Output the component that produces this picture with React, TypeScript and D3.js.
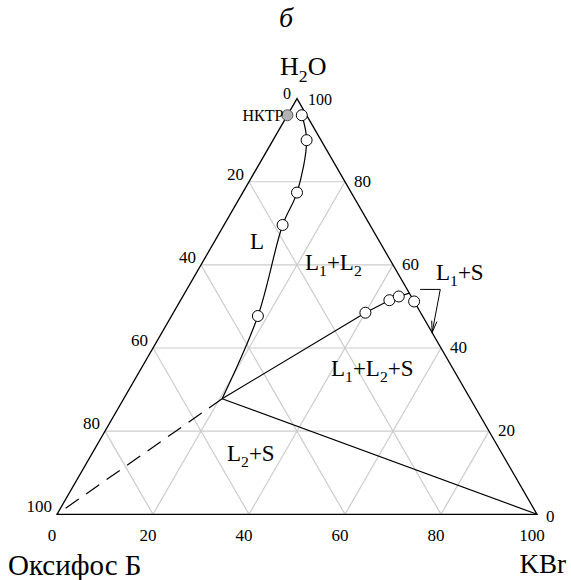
import React from "react";
import * as d3 from "d3";

// ternary points as [KBr %, H2O %]
const ticks = [0, 20, 40, 60, 80, 100];
const gridLevels = [20, 40, 60, 80];
const curveL: [number, number][] = [
  [3, 96], [7, 90], [11.3, 77.4], [12.2, 69.6], [18, 47.7], [20.5, 27.8],
];
const curveLCircles: [number, number][] = [
  [3, 96], [7, 90], [11.3, 77.4], [12.2, 69.6], [18, 47.7],
];
const curveR: [number, number][] = [
  [20.5, 27.8], [40, 48.5], [43.5, 51.5], [45, 52.4], [46.8, 53.2],
];
const curveRCircles: [number, number][] = [
  [40, 48.5], [43.5, 51.5], [45, 52.4], [48.8, 51.2],
];
const nktp: [number, number] = [0, 96];
const junction: [number, number] = [20.5, 27.8];
const leaderPts: [number, number][] = [[48.6, 54.1], [52.8, 54.1], [56.3, 43.7]];

const X0 = 57, Y0 = 514.3, SIDE = 480;
const s = d3.scaleLinear().domain([0, 100]).range([0, SIDE]);
const H = Math.sqrt(3) / 2;
const P = (k: number, w: number): [number, number] => [X0 + s(k + w / 2), Y0 - s(w) * H];

const FONT = "'Liberation Serif', 'Times New Roman', 'DejaVu Serif', serif";

function Lbl({ x, y, parts, size = 23, anchor = "start" }: any) {
  return (
    <text x={x} y={y} fontSize={size} style={{ fontFamily: FONT }} textAnchor={anchor}>
      {parts.map((p: any, i: number) =>
        p.sub ? (
          <tspan key={i} fontSize={size * 0.68} dy={size * 0.28}>{p.t}</tspan>
        ) : (
          <tspan key={i} dy={i > 0 && parts[i - 1].sub ? -size * 0.28 : 0}>{p.t}</tspan>
        )
      )}
    </text>
  );
}

export default function App() {
  const line = d3.line<[number, number]>().x(d => P(d[0], d[1])[0]).y(d => P(d[0], d[1])[1]);
  const smooth = d3.line<[number, number]>().x(d => P(d[0], d[1])[0]).y(d => P(d[0], d[1])[1]).curve(d3.curveCatmullRom.alpha(0.5));
  const A = P(0, 100), Bl = P(0, 0), Br = P(100, 0);
  const grid: any[] = [];
  gridLevels.forEach(v => {
    grid.push([P(0, v), P(100 - v, v)]);
    grid.push([P(v, 0), P(v, 100 - v)]);
    grid.push([P(100 - v, 0), P(0, 100 - v)]);
  });
  const J = P(junction[0], junction[1]);
  const lp = leaderPts.map(d => P(d[0], d[1]));
  const tip = lp[2];
  const ang = Math.atan2(tip[1] - lp[1][1], tip[0] - lp[1][0]);
  const ah = 12, aw = 0.22;
  const a1 = [tip[0] - ah * Math.cos(ang - aw), tip[1] - ah * Math.sin(ang - aw)];
  const a2 = [tip[0] - ah * Math.cos(ang + aw), tip[1] - ah * Math.sin(ang + aw)];
  const tStyle = { fontFamily: FONT };
  const N = P(nktp[0], nktp[1]);
  return (
    <svg width={571} height={580} style={{ position: "absolute", left: 0, top: 0, display: "block" }}>
      <rect width={571} height={580} fill="#fff" />
      {grid.map((g, i) => (
        <line key={i} x1={g[0][0]} y1={g[0][1]} x2={g[1][0]} y2={g[1][1]} stroke="#cccccc" strokeWidth={1.2} />
      ))}
      <path d={`M${A}L${Bl}L${Br}Z`} fill="none" stroke="#000" strokeWidth={1.3} />
      <path d={smooth(curveL) || ""} fill="none" stroke="#000" strokeWidth={1.2} />
      <path d={line(curveR) || ""} fill="none" stroke="#000" strokeWidth={1.2} />
      <line x1={J[0]} y1={J[1]} x2={Br[0]} y2={Br[1]} stroke="#000" strokeWidth={1.2} />
      <line x1={J[0]} y1={J[1]} x2={Bl[0]} y2={Bl[1]} stroke="#000" strokeWidth={1.2} strokeDasharray="16,9" />
      {curveLCircles.concat(curveRCircles).map((d, i) => {
        const p = P(d[0], d[1]);
        return <circle key={i} cx={p[0]} cy={p[1]} r={5.5} fill="#fff" stroke="#000" strokeWidth={1} />;
      })}
      <circle cx={N[0]} cy={N[1]} r={5.5} fill="#b3b3b3" stroke="#555" strokeWidth={1} />
      <polyline points={lp.map(p => p.join(",")).join(" ")} fill="none" stroke="#000" strokeWidth={1} />
      <polyline points={`${a1.join(",")} ${tip.join(",")} ${a2.join(",")}`} fill="none" stroke="#000" strokeWidth={1} />
      {ticks.map(t => {
        const p = P(t, 0);
        return (
          <text key={"b" + t} x={p[0] - 5} y={p[1] + 27} fontSize={17} style={tStyle} textAnchor="middle">{t}</text>
        );
      })}
      {ticks.slice(1).map(t => {
        const p = P(0, 100 - t);
        return (
          <text key={"l" + t} x={p[0] - 5} y={p[1] - 2} fontSize={17} style={tStyle} textAnchor="end">{t}</text>
        );
      })}
      {ticks.slice(0, 5).map(t => {
        const p = P(100 - t, t);
        return (
          <text key={"r" + t} x={p[0] + 9} y={p[1] + (t === 0 ? 8 : 5)} fontSize={17} style={tStyle}>{t}</text>
        );
      })}
      <text x={A[0] - 10} y={A[1]} fontSize={16} style={tStyle} textAnchor="middle">0</text>
      <text x={A[0] + 11} y={A[1] + 6} fontSize={16} style={tStyle}>100</text>
      <text x={N[0] - 4} y={N[1] + 6} fontSize={16} style={tStyle} textAnchor="end">НКТР</text>
      <text x={286} y={27} fontSize={28} fontStyle="italic" style={tStyle} textAnchor="middle">б</text>
      <Lbl x={280} y={75} size={26} parts={[{ t: "H" }, { t: "2", sub: true }, { t: "O" }]} />
      <text x={8} y={575} fontSize={29} style={tStyle}>Оксифос Б</text>
      <text x={566} y={573} fontSize={27} style={tStyle} textAnchor="end">KBr</text>
      <Lbl x={250} y={249} parts={[{ t: "L" }]} />
      <Lbl x={305} y={270} parts={[{ t: "L" }, { t: "1", sub: true }, { t: "+L" }, { t: "2", sub: true }]} />
      <Lbl x={331} y={376} parts={[{ t: "L" }, { t: "1", sub: true }, { t: "+L" }, { t: "2", sub: true }, { t: "+S" }]} />
      <Lbl x={227} y={461} parts={[{ t: "L" }, { t: "2", sub: true }, { t: "+S" }]} />
      <Lbl x={436} y={280} parts={[{ t: "L" }, { t: "1", sub: true }, { t: "+S" }]} />
    </svg>
  );
}
